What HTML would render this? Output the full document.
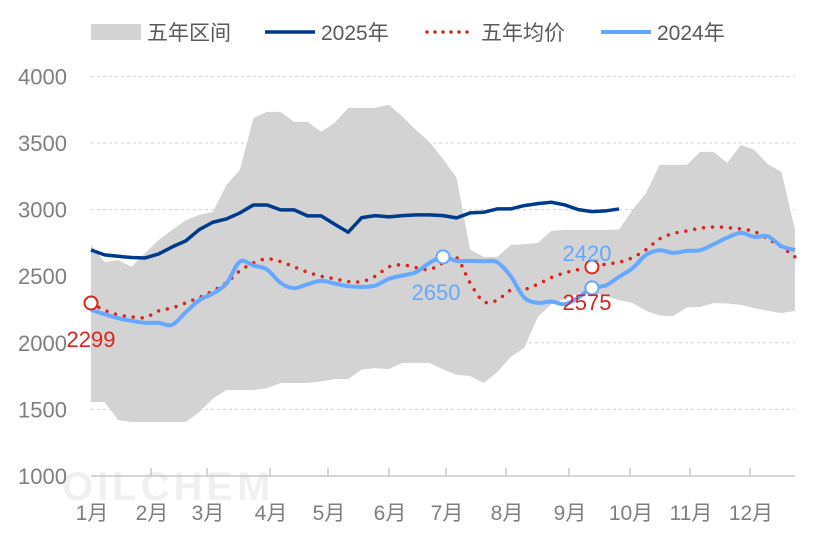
<!DOCTYPE html>
<html><head><meta charset="utf-8"><style>
html,body{margin:0;padding:0;background:#fff;}
svg{display:block;font-family:"Liberation Sans","Noto Sans CJK SC",sans-serif;}
</style></head><body>
<svg id="chart" width="816" height="544" viewBox="0 0 816 544" xmlns="http://www.w3.org/2000/svg">
<text x="62" y="500" font-size="40" font-weight="bold" fill="#f0f0f0" letter-spacing="4">OILCHEM</text>
<g id="grid"></g><g id="band"></g><g id="series"></g><g id="axes"></g><g id="legend"></g>
</svg>
<script>
const monthLabels=["1月","2月","3月","4月","5月","6月","7月","8月","9月","10月","11月","12月"];
const monthTickX=[91,151,207,270,328,389,446,506,569,630,690,750];
const yTicks=[1000,1500,2000,2500,3000,3500,4000];
const bandUpper=[2735,2607,2622,2570,2675,2772,2848,2920,2960,2983,3185,3298,3688,3734,3734,3659,3659,3584,3651,3764,3764,3764,3787,3700,3598,3508,3380,3240,2700,2645,2645,2735,2740,2750,2840,2848,2848,2848,2848,2850,2998,3125,3336,3336,3336,3433,3433,3351,3486,3448,3340,3283,2848];
const bandLower=[1555,1555,1420,1405,1405,1405,1405,1405,1480,1580,1646,1646,1646,1660,1698,1698,1698,1710,1728,1728,1800,1810,1803,1849,1849,1849,1800,1760,1751,1698,1780,1894,1961,2194,2290,2330,2370,2380,2350,2320,2299,2240,2205,2200,2265,2269,2299,2295,2285,2260,2240,2224,2240];
const series2025=[2697,2660,2650,2640,2637,2667,2720,2765,2850,2905,2930,2975,3035,3035,2998,2998,2953,2953,2890,2830,2940,2955,2945,2955,2960,2960,2955,2938,2975,2980,3005,3005,3030,3045,3055,3035,3000,2985,2990,3005];
const series2024=[2247,2215,2185,2165,2150,2150,2135,2230,2320,2370,2445,2610,2580,2550,2450,2410,2440,2465,2445,2425,2420,2430,2480,2505,2530,2600,2645,2615,2615,2612,2605,2500,2340,2300,2310,2290,2340,2412,2430,2495,2560,2660,2695,2675,2690,2695,2740,2790,2825,2795,2800,2725,2697];
const seriesAvg=[2299,2245,2210,2195,2190,2240,2262,2300,2340,2390,2450,2540,2600,2630,2610,2570,2530,2500,2480,2460,2460,2500,2570,2585,2565,2550,2600,2640,2450,2310,2320,2395,2400,2440,2490,2525,2550,2570,2590,2605,2640,2700,2780,2820,2840,2860,2870,2865,2855,2835,2780,2720,2645];
const NS="http://www.w3.org/2000/svg";
const X0=91,X1=795,Y0=476,YPER=0.1332;
const N=53;
function xs(i){return X0+i*(X1-X0)/(N-1);}
function ys(v){return Y0-(v-1000)*YPER;}
function mk(tag,attrs,parent){const e=document.createElementNS(NS,tag);for(const k in attrs)e.setAttribute(k,attrs[k]);parent.appendChild(e);return e;}
function smooth(pts){let d="M"+pts[0][0]+","+pts[0][1];for(let i=0;i<pts.length-1;i++){const p0=pts[i-1]||pts[i],p1=pts[i],p2=pts[i+1],p3=pts[i+2]||p2;const c1x=p1[0]+(p2[0]-p0[0])/6,c1y=p1[1]+(p2[1]-p0[1])/6,c2x=p2[0]-(p3[0]-p1[0])/6,c2y=p2[1]-(p3[1]-p1[1])/6;d+=" C"+c1x+","+c1y+" "+c2x+","+c2y+" "+p2[0]+","+p2[1];}return d;}
const grid=document.getElementById('grid'),band=document.getElementById('band'),ser=document.getElementById('series'),axes=document.getElementById('axes'),leg=document.getElementById('legend');
yTicks.forEach(v=>{
 if(v>1000){const l=mk('line',{x1:X0,x2:X1,y1:ys(v),y2:ys(v),stroke:'#d0d0d0','stroke-dasharray':'3,3','stroke-width':1},grid);
 
 }
 const t=mk('text',{x:67,y:ys(v)+8,'text-anchor':'end','font-size':22,fill:'#7f7f7f'},axes);t.textContent=v;
 
 
});
let d="";bandUpper.forEach((v,i)=>{d+=(i?"L":"M")+xs(i)+","+ys(v);});
for(let i=N-1;i>=0;i--)d+="L"+xs(i)+","+ys(bandLower[i]);
const bp=mk('path',{d:d+"Z",fill:'#d3d3d3'},band);


function line(arr,attrs,name,sm){const pts=arr.map((v,i)=>[xs(i),ys(v)]);const p=mk('path',Object.assign({d:sm?smooth(pts):pts.map((q,i)=>(i?"L":"M")+q[0]+","+q[1]).join(""),fill:'none'},attrs),ser);

}
line(series2025,{stroke:'#003a8c','stroke-width':3.5,'stroke-linejoin':'round'},'series-2025',false);
line(seriesAvg,{stroke:'#d9261c','stroke-width':3.5,'stroke-dasharray':'0,9','stroke-linecap':'round'},'series-five-year-avg',true);
line(series2024,{stroke:'#66a8ff','stroke-width':4,'stroke-linejoin':'round'},'series-2024',true);
function marker(i,arr,color,name){const c=mk('circle',{cx:xs(i),cy:ys(arr[i]),r:6.5,fill:'#fff',stroke:color,'stroke-width':2},ser);

}
marker(0,seriesAvg,'#d9261c','avg-start-marker');
marker(37,seriesAvg,'#d9261c','avg-latest-marker');
marker(26,series2024,'#66a8ff','2024-mid-marker');
marker(37,series2024,'#66a8ff','2024-latest-marker');
function lbl(x,y,txt,color,name){const t=mk('text',{x:x,y:y,'text-anchor':'middle','font-size':22,fill:color},ser);t.textContent=txt;

}
lbl(91,347,'2299','#d9261c','label-2299');
lbl(436,300,'2650','#66a8ff','label-2650');
lbl(587,261,'2420','#66a8ff','label-2420');
lbl(587,310,'2575','#d9261c','label-2575');
const ax=mk('line',{x1:X0,x2:X1,y1:Y0,y2:Y0,stroke:'#c8c8c8','stroke-width':1.5},axes);


monthTickX.forEach((x,i)=>{
 if(i>0){const tk=mk('line',{x1:x,x2:x,y1:Y0,y2:Y0-8,stroke:'#c8c8c8','stroke-width':1.5},axes);
 
 }
 const t=mk('text',{x:x+1,y:520,'text-anchor':'middle','font-size':21,fill:'#7f7f7f'},axes);t.textContent=monthLabels[i];
 
 
});
function legItem(kind,x,label,name){const g=mk('g',{},leg);


if(kind==='band')mk('rect',{x:x,y:24,width:50,height:16,fill:'#d3d3d3'},g);
else if(kind==='2025')mk('line',{x1:x,x2:x+50,y1:32,y2:32,stroke:'#003a8c','stroke-width':3.5},g);
else if(kind==='avg')mk('line',{x1:x+2,x2:x+50,y1:32,y2:32,stroke:'#d9261c','stroke-width':3.5,'stroke-dasharray':'0,8','stroke-linecap':'round'},g);
else mk('line',{x1:x,x2:x+50,y1:32,y2:32,stroke:'#66a8ff','stroke-width':4},g);
const t=mk('text',{x:x+56,y:40,'font-size':21,fill:'#595959'},g);t.textContent=label;}
legItem('band',91,'五年区间','legend-five-year-range');
legItem('2025',265,'2025年','legend-2025');
legItem('avg',425,'五年均价','legend-five-year-avg');
legItem('2024',601,'2024年','legend-2024');
</script>
</body></html>
